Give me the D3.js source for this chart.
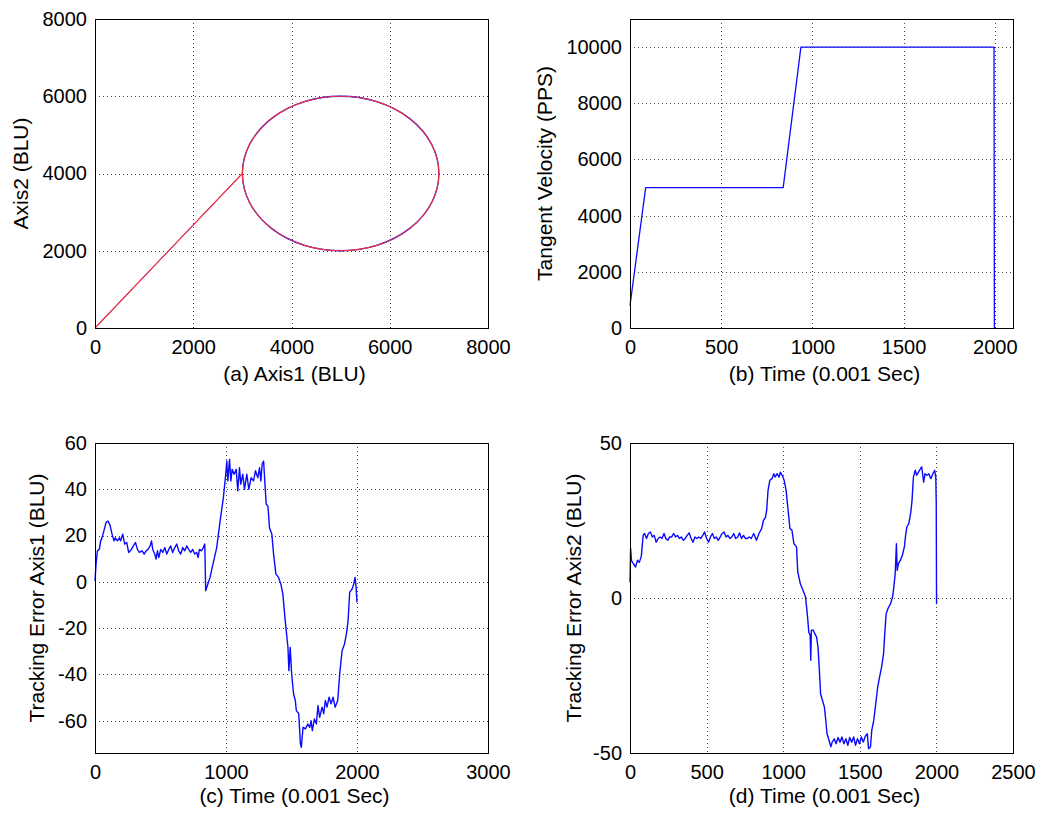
<!DOCTYPE html>
<html>
<head>
<meta charset="utf-8">
<script src="https://cdn.jsdelivr.net/npm/d3@7"></script>
<style>
  body { margin: 0; background: #fff; }
  svg text { font-family: "Liberation Sans", Arial, sans-serif; fill: #000; }
  .grid line { stroke: #444; stroke-width: 1; stroke-dasharray: 1,3; }
</style>
</head>
<body>
<div id="chart"></div>
<script>
//
// Four MATLAB style panels: contour path, tangent velocity, tracking errors
//

// (a) contour: straight lead-in then a circle
var leadIn = [[0, 0], [3000, 4000]];
var circleCenter = [5000, 4000];
var circleRadius = 2000;
var ticksA = [0, 2000, 4000, 6000, 8000];

// (b) tangent velocity
var velocity = [[0, 800], [86, 5000], [840, 5000], [937, 10000], [1996, 10000], [1998, 0]];
var ticksBx = [0, 500, 1000, 1500, 2000];
var ticksBy = [0, 2000, 4000, 6000, 8000, 10000];

// (c) tracking error axis1
var errorAxis1 = [
    [0, 0.4], [8, 7.6], [18, 13.4], [33, 14], [43, 17.7], [53, 19], [68, 22], [84, 25.6], [99, 26.3], [115, 24.4],
    [130, 20.6], [145, 17.7], [155, 19], [171, 17.7], [186, 19], [196, 17.7], [211, 20.6], [227, 16.3], [242, 17], [257, 12.7],
    [278, 14], [293, 15.5], [309, 17], [324, 14], [339, 12.7], [360, 13.4], [375, 12], [390, 13.4], [405, 14], [421, 15.5],
    [431, 17.7], [441, 14], [456, 12], [466, 9.8], [477, 13.4], [487, 10.5], [502, 14], [517, 12.7], [533, 14.8], [548, 12],
    [563, 14], [578, 15.5], [593, 12.7], [609, 14.8], [624, 16.3], [639, 13.4], [654, 12], [670, 14.8], [685, 13.4], [700, 15.5],
    [715, 14], [731, 12.7], [746, 14], [761, 12], [776, 12.7], [787, 10.5], [797, 14], [812, 13.4], [827, 14.8], [838, 16.3],
    [845, -3.9], [878, 1.9], [929, 14.8], [955, 26.3], [980, 36.4], [998, 46.5], [1006, 52.2], [1014, 43.6], [1027, 53], [1037, 43.6],
    [1047, 48.6], [1062, 46.5], [1078, 48.6], [1090, 39.3], [1103, 49.3], [1113, 42.2], [1128, 46.5], [1141, 40], [1159, 46.5], [1174, 40],
    [1192, 45], [1210, 43.6], [1225, 48], [1243, 45], [1256, 49.3], [1266, 43.6], [1276, 50.8], [1287, 52.2], [1299, 40.7], [1307, 33.5],
    [1320, 32.8], [1332, 23.4], [1350, 20.6], [1363, 12], [1381, 3.3], [1401, 1.9], [1419, -1], [1434, -5.3], [1452, -16.8], [1473, -28.4],
    [1480, -38.4], [1490, -28.4], [1501, -39.8], [1516, -48.5], [1529, -51.3], [1537, -55.7], [1555, -57], [1568, -70], [1575, -71.5], [1588, -62.9],
    [1606, -63.6], [1624, -61.5], [1639, -62.9], [1649, -60], [1659, -64.3], [1675, -59.3], [1690, -61.5], [1702, -53.5], [1715, -58.6], [1733, -54.2],
    [1746, -57], [1758, -51.3], [1771, -54.2], [1787, -49.9], [1802, -52.7], [1817, -49.9], [1833, -54.2], [1853, -51.3], [1868, -39.8], [1886, -29.8],
    [1904, -27], [1919, -22.6], [1932, -16.8], [1944, -4.6], [1962, -3.2], [1975, -1], [1985, 1.9], [1993, -2.4], [2000, -8.9]
];
var ticksCx = [0, 1000, 2000, 3000];
var ticksCy = [-60, -40, -20, 0, 20, 40, 60];

// (d) tracking error axis2
var errorAxis2 = [
    [0, 5], [4, 16], [10, 12], [23, 11], [36, 10], [49, 12.2], [61, 11.5], [74, 13.5], [86, 20.2], [95, 20.8],
    [108, 19.2], [120, 20.8], [133, 21.3], [146, 19.7], [158, 20.2], [171, 18], [184, 19.2], [196, 19.7], [209, 19.2], [222, 20.8],
    [234, 19.2], [247, 18.6], [259, 19.7], [272, 19.7], [285, 20.8], [297, 19.7], [310, 20.2], [323, 19.2], [335, 19.7], [348, 18.6],
    [361, 19.2], [373, 20.2], [386, 21], [399, 19.2], [411, 18], [424, 19.7], [437, 19.2], [449, 19.7], [462, 19.2], [475, 20.2],
    [487, 21.3], [500, 19.2], [513, 18], [525, 19.7], [538, 20.8], [551, 19.2], [563, 19.7], [576, 18.6], [589, 19.7], [601, 20.8],
    [614, 21.3], [627, 19.7], [639, 20.2], [652, 19.2], [665, 19.7], [677, 20.8], [690, 19.2], [703, 19.7], [715, 21], [728, 19.2],
    [741, 20.2], [753, 19.2], [766, 19.2], [778, 19.7], [791, 19.2], [808, 20.8], [825, 18.6], [842, 20.8],
    [859, 22.4], [871, 25], [884, 26], [892, 28.3], [901, 34.7], [913, 38], [926, 38.5], [939, 40.1], [947, 39], [960, 40.1],
    [973, 39], [981, 40.6], [994, 39.5], [1006, 38], [1019, 34.7], [1032, 28.3], [1044, 22.4], [1057, 21.9], [1070, 17.5], [1087, 16.5],
    [1095, 8.4], [1112, 4.6], [1129, 2.5], [1146, 0.3], [1159, -6.1], [1167, -11], [1176, -12], [1180, -20.1], [1184, -10.4], [1197, -10.4],
    [1206, -11.5], [1218, -12.6], [1227, -15.8], [1235, -22.3], [1244, -30.9], [1256, -33], [1269, -35.2], [1278, -39.5], [1286, -43.8], [1299, -45.9],
    [1311, -48], [1320, -46.5], [1333, -45.4], [1345, -47], [1358, -45], [1371, -46.5], [1383, -44.8], [1396, -47], [1409, -45.4], [1422, -47.5],
    [1434, -45], [1447, -46.5], [1460, -44.8], [1472, -47.5], [1485, -45.4], [1498, -47], [1510, -44.8], [1523, -46.5], [1536, -44.6], [1549, -43.8],
    [1557, -48.6], [1570, -48], [1578, -42.7], [1591, -39.5], [1604, -34.1], [1617, -28.7], [1629, -25.5], [1642, -22.3], [1655, -18], [1663, -11.5],
    [1672, -5.1], [1684, -3.4], [1701, -1.8], [1714, 0.3], [1722, 3.5], [1731, 7.8], [1739, 17.5], [1744, 8.9], [1752, 11.1], [1765, 12.2],
    [1778, 13.8], [1791, 16.5], [1799, 20.2], [1807, 22.9], [1820, 24], [1833, 27.7], [1841, 31.5], [1850, 39], [1862, 41.2], [1871, 39.6],
    [1883, 40.6], [1896, 41.7], [1904, 42.3], [1917, 37.4], [1926, 40.1], [1938, 39.6], [1951, 40.1], [1964, 38.5], [1977, 40.1], [1989, 41.2],
    [1996, 39], [1999, 30.4], [2001, -1.8], [2002, 1.4]
];
var ticksDx = [0, 500, 1000, 1500, 2000, 2500];
var ticksDy = [-50, 0, 50];

const _tickFont = 20;
const _titleFont = 21;
const _blue = "#0a0aff";
const _red = "#ee3340";

var svg = d3.select("#chart").append("svg")
    .attr("width", 1056)
    .attr("height", 816);

function drawPanel(p) {
    var x = d3.scaleLinear().domain(p.xDomain).range([p.left, p.left + p.width]);
    var y = d3.scaleLinear().domain(p.yDomain).range([p.top + p.height, p.top]);
    var g = svg.append("g");

    // dotted grid
    var grid = g.append("g").attr("class", "grid");
    grid.selectAll(".gx")
        .data(p.xTicks.filter(function (d) { return d > p.xDomain[0] && d < p.xDomain[1]; }))
        .enter().append("line")
        .attr("x1", function (d) { return Math.round(x(d)) + 0.5; })
        .attr("x2", function (d) { return Math.round(x(d)) + 0.5; })
        .attr("y1", p.top).attr("y2", p.top + p.height);
    grid.selectAll(".gy")
        .data(p.yTicks.filter(function (d) { return d > p.yDomain[0] && d < p.yDomain[1]; }))
        .enter().append("line")
        .attr("y1", function (d) { return Math.round(y(d)) + 0.5; })
        .attr("y2", function (d) { return Math.round(y(d)) + 0.5; })
        .attr("x1", p.left).attr("x2", p.left + p.width);

    // axes (labels only)
    var xAxis = g.append("g")
        .attr("transform", "translate(0," + (p.top + p.height) + ")")
        .call(d3.axisBottom(x).tickValues(p.xTicks).tickSize(0).tickPadding(12).tickFormat(function (d) { return String(d); }));
    var yAxis = g.append("g")
        .attr("transform", "translate(" + p.left + ",0)")
        .call(d3.axisLeft(y).tickValues(p.yTicks).tickSize(0).tickPadding(8).tickFormat(function (d) { return String(d); }));
    [xAxis, yAxis].forEach(function (a) {
        a.select(".domain").remove();
        a.attr("font-size", _tickFont).attr("font-family", null);
    });

    var clipId = "clip" + p.id;
    g.append("clipPath").attr("id", clipId)
        .append("rect")
        .attr("x", p.left - 1).attr("y", p.top - 1)
        .attr("width", p.width + 2).attr("height", p.height + 2);
    var plot = g.append("g").attr("clip-path", "url(#" + clipId + ")");
    p.drawData(plot, x, y);

    // box
    g.append("rect")
        .attr("x", p.left + 0.5).attr("y", p.top + 0.5)
        .attr("width", p.width).attr("height", p.height)
        .attr("fill", "none").attr("stroke", "#000").attr("stroke-width", 1);

    g.append("text")
        .attr("x", p.left + p.width / 2 + 3)
        .attr("y", p.xTitleY)
        .attr("text-anchor", "middle")
        .attr("font-size", _titleFont)
        .text(p.xTitle);
    g.append("text")
        .attr("transform", "translate(" + p.yTitleX + "," + (p.top + p.height / 2) + ") rotate(-90)")
        .attr("text-anchor", "middle")
        .attr("font-size", _titleFont)
        .text(p.yTitle);
}

function seriesLine(plot, x, y, data, color, width) {
    plot.append("path")
        .datum(data)
        .attr("fill", "none")
        .attr("stroke", color)
        .attr("stroke-width", width)
        .attr("stroke-linejoin", "round")
        .attr("d", d3.line().x(function (d) { return x(d[0]); }).y(function (d) { return y(d[1]); }));
}

drawPanel({
    id: "a", left: 95, top: 19, width: 393, height: 309,
    xDomain: [0, 8000], yDomain: [0, 8000], xTicks: ticksA, yTicks: ticksA,
    xTitle: "(a) Axis1 (BLU)", yTitle: "Axis2 (BLU)", xTitleY: 381, yTitleX: 28,
    drawData: function (plot, x, y) {
        var drawCircle = function (color, width) {
            plot.append("ellipse")
                .attr("cx", x(circleCenter[0]))
                .attr("cy", y(circleCenter[1]))
                .attr("rx", x(circleCenter[0] + circleRadius) - x(circleCenter[0]))
                .attr("ry", y(circleCenter[1]) - y(circleCenter[1] + circleRadius))
                .attr("fill", "none").attr("stroke", color).attr("stroke-width", width);
        };
        // actual path (blue) under the command path (red)
        seriesLine(plot, x, y, leadIn, _blue, 0.9);
        drawCircle(_blue, 1.3);
        seriesLine(plot, x, y, leadIn, _red, 1.2);
        drawCircle(_red, 1.2);
    }
});

drawPanel({
    id: "b", left: 630, top: 19, width: 383, height: 309,
    xDomain: [0, 2100], yDomain: [0, 11000], xTicks: ticksBx, yTicks: ticksBy,
    xTitle: "(b) Time (0.001 Sec)", yTitle: "Tangent Velocity (PPS)", xTitleY: 381, yTitleX: 552,
    drawData: function (plot, x, y) {
        seriesLine(plot, x, y, velocity, _blue, 1.3);
    }
});

drawPanel({
    id: "c", left: 95, top: 443, width: 393, height: 310,
    xDomain: [0, 3000], yDomain: [-74, 60], xTicks: ticksCx, yTicks: ticksCy,
    xTitle: "(c) Time (0.001 Sec)", yTitle: "Tracking Error Axis1 (BLU)", xTitleY: 803, yTitleX: 44,
    drawData: function (plot, x, y) {
        seriesLine(plot, x, y, errorAxis1, _blue, 1.4);
    }
});

drawPanel({
    id: "d", left: 630, top: 443, width: 383, height: 310,
    xDomain: [0, 2500], yDomain: [-50, 50], xTicks: ticksDx, yTicks: ticksDy,
    xTitle: "(d) Time (0.001 Sec)", yTitle: "Tracking Error Axis2 (BLU)", xTitleY: 803, yTitleX: 581,
    drawData: function (plot, x, y) {
        seriesLine(plot, x, y, errorAxis2, _blue, 1.4);
    }
});
</script>
</body>
</html>
